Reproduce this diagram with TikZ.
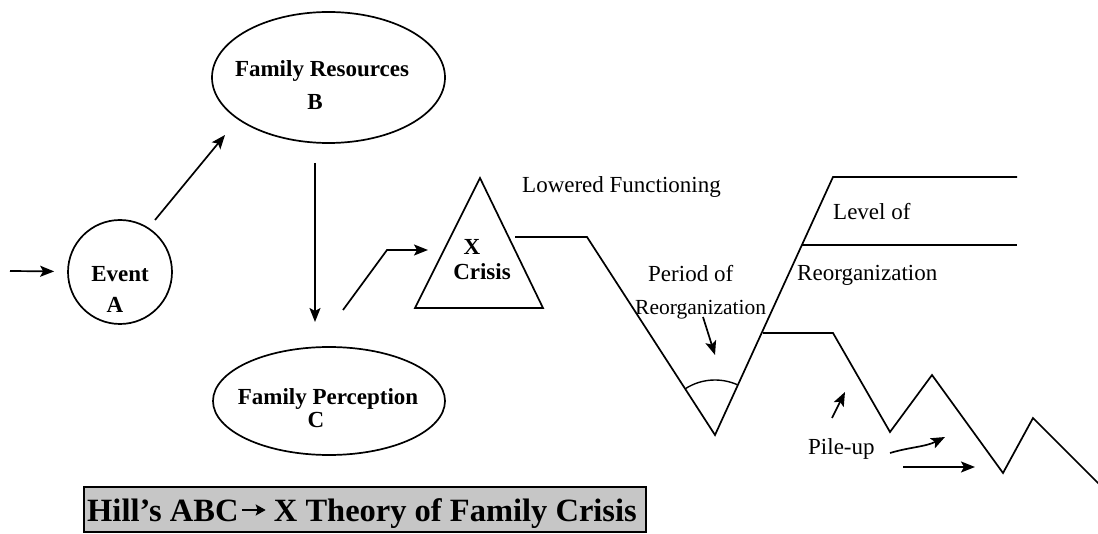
\documentclass[tikz,border=0pt]{standalone}
\usepackage{fontspec}
\setmainfont{Liberation Serif}
\usetikzlibrary{arrows.meta,shapes.geometric}
\begin{document}
\begin{tikzpicture}[x=1pt,y=-1pt,
  ln/.style={line width=1.7pt, line join=miter},
  arr/.style={line width=1.7pt, -{Stealth[length=14pt,width=11pt,inset=3pt]}},
  shp/.style={draw, line width=1.7pt, inner sep=0pt},
  bt/.style={font=\fontsize{23}{26}\selectfont\bfseries, inner sep=0pt, anchor=base},
  rt/.style={font=\fontsize{23}{26}\selectfont, inner sep=0pt, anchor=base west},
  tit/.style={font=\fontsize{32.5}{36}\selectfont\bfseries, inner sep=0pt},
]
\useasboundingbox (0,0) rectangle (1098,534);
\fill[white] (0,0) rectangle (1098,534);

% shapes
\node[shp, circle, minimum size=104pt] (ev) at (120,272) {};
\node[shp, ellipse, minimum width=233pt, minimum height=131pt] (fr) at (328.5,77.5) {};
\node[shp, ellipse, minimum width=232pt, minimum height=108pt] (fp) at (329,401) {};

\coordinate (tA) at (480,178);
\coordinate (tL) at (415,308);
\coordinate (tR) at (543,308);
\draw[ln] (tA) -- (tL) -- (tR) -- cycle;

% texts in shapes
\node[bt] (evt1) at (120,282) {Event};
\node[bt] (evt2) at (115,313) {A};
\node[bt] (frt1) at (322,77) {Family Resources};
\node[bt] (frt2) at (315,110) {B};
\node[bt] (fpt1) at (328,405) {Family Perception};
\node[bt] (fpt2) at (316,428) {C};
\node[bt] (xt1) at (472,255) {X};
\node[bt] (xt2) at (482,280) {Crisis};

% connectors
\coordinate (p0) at (10,271);
\draw[arr, shorten >=13pt] (p0) -- (ev);
\coordinate (ab1) at (155,220);
\coordinate (ab2) at (225,135);
\draw[arr] (ab1) -- (ab2);
\coordinate (bc1) at (315,163);
\coordinate (bc2) at (315,322);
\draw[arr] (bc1) -- (bc2);
\coordinate (cx1) at (343,310);
\coordinate (cx2) at (387,250);
\coordinate (cx3) at (428,250);
\draw[arr] (cx1) -- (cx2) -- (cx3);

% functioning curves
\coordinate (vb) at (715,435);
\draw[ln] (515,237) -- (587,237) -- (vb) -- (833,177) -- (1017,177);
\draw[ln] (802,245) -- (1017,245);
\draw[ln] (763,333) -- (833,333) -- (890,432) -- (932,375) -- (1003,473) -- (1033,418) -- (1100,485);
\draw[line width=1.4pt] (vb) ++(-122:55) arc[start angle=-122, end angle=-66, radius=55];

% labels
\node[rt] (lf) at (522,193) {Lowered Functioning};
\node[rt] (lv) at (833,220) {Level of};
\node[rt] (ro1) at (797,281) {Reorganization};
\node[rt] (po) at (648,282) {Period of};
\node[rt, font=\fontsize{21.5}{24}\selectfont] (ro2) at (635,315) {Reorganization};
\node[rt] (pu) at (808,455) {Pile-up};

% small arrows
\coordinate (d1) at (703,317);
\coordinate (d2) at (715,355);
\draw[arr] (d1) -- (d2);
\coordinate (u1) at (832,418);
\coordinate (u2) at (845,392);
\draw[arr] (u1) -- (u2);
\coordinate (q1) at (890,453);
\coordinate (q2) at (945,437);
\draw[arr] (q1) .. controls (910,447) and (925,447) .. (q2);
\coordinate (r1) at (903,467);
\coordinate (r2) at (975,467);
\draw[arr] (r1) -- (r2);

% title
\node[draw, line width=1.5pt, fill=gray!45, minimum width=562pt, minimum height=45pt, inner sep=0pt, anchor=north west] (tb) at (83,486) {};
\node[tit, anchor=base west] (tt1) at (87,521) {Hill’s ABC};
\node[tit, anchor=base east] (tt2) at (637,521) {X Theory of Family Crisis};
\draw[line width=2.6pt, -{Stealth[length=10pt,width=11pt,inset=2pt]}] ([xshift=3pt,yshift=11pt]tt1.base east) -- ([xshift=-8pt,yshift=11pt]tt2.base west);
\end{tikzpicture}
\end{document}
